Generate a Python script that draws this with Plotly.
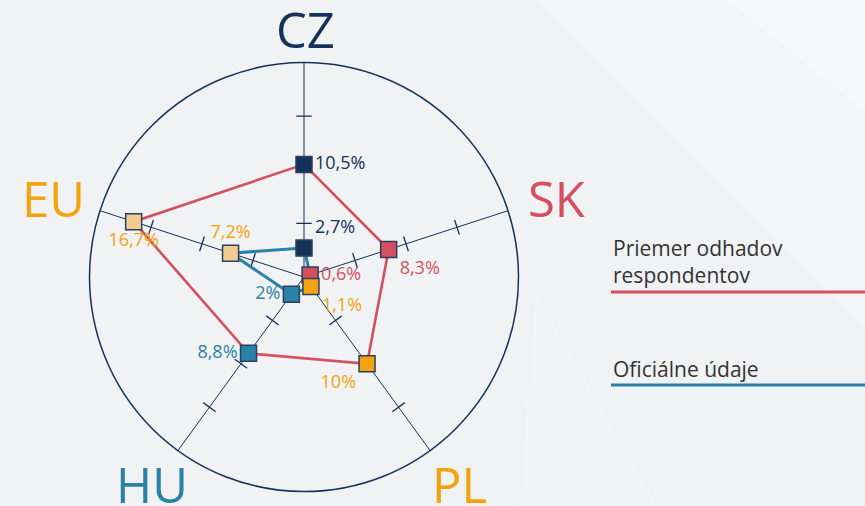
import plotly.graph_objects as go

countries = ["CZ", "SK", "PL", "HU", "EU"]
estimates = [10.5, 8.3, 10.0, 8.8, 16.7]
official = [2.7, 0.6, 1.1, 2.0, 7.2]
estimate_labels = ["10,5%", "8,3%", "10%", "8,8%", "16,7%"]
official_labels = ["2,7%", "0,6%", "1,1%", "2%", "7,2%"]
tick_values = [5, 10, 15]
series_names = ["Priemer odhadov<br>respondentov", "Oficiálne údaje"]

NAVY = "#15325a"
RED = "#d4505f"
ORANGE = "#f2a30f"
TEAL = "#2a82a8"
PEACH = "#f5cb94"
marker_colors = [NAVY, RED, ORANGE, TEAL, PEACH]
text_colors = [NAVY, RED, ORANGE, TEAL, ORANGE]
label_colors = [NAVY, RED, ORANGE, TEAL, ORANGE]
angles = [0, 72, 144, 216, 288]

fig = go.Figure()

# tick marks on spokes
tt, tr, ta = [], [], []
for c, a in zip(countries, angles):
    for v in tick_values:
        tt.append(c); tr.append(v); ta.append(a)
fig.add_trace(go.Scatterpolar(
    r=tr, theta=tt, mode="markers", hoverinfo="skip", showlegend=False,
    marker=dict(symbol="line-ew", size=11, angle=ta,
                line=dict(color=NAVY, width=1.3))))

# series lines
fig.add_trace(go.Scatterpolar(
    r=estimates + estimates[:1], theta=countries + countries[:1], mode="lines",
    line=dict(color=RED, width=2.6), showlegend=False, hoverinfo="skip"))
fig.add_trace(go.Scatterpolar(
    r=official + official[:1], theta=countries + countries[:1], mode="lines",
    line=dict(color=TEAL, width=3), showlegend=False, hoverinfo="skip"))

# markers with value labels
est_pos = ["middle right", "bottom right", "bottom left", "middle left", "bottom center"]
off_pos = ["top right", "middle right", "bottom right", "middle left", "top center"]
for vals, labels, pos in ((estimates, estimate_labels, est_pos),
                          (official, official_labels, off_pos)):
    fig.add_trace(go.Scatterpolar(
        r=vals, theta=countries, mode="markers+text", showlegend=False,
        text=labels, textposition=pos,
        textfont=dict(family="Open Sans", size=18, color=text_colors),
        marker=dict(symbol="square", size=16, color=marker_colors,
                    line=dict(color="#2d3f5e", width=1.5))))

W, H = 865, 506
cx, cy, R = 304, 277, 214.5
fig.update_layout(
    width=W, height=H,
    margin=dict(l=0, r=0, t=0, b=0),
    paper_bgcolor="#f1f2f4",
    polar=dict(
        domain=dict(x=[(cx - R) / W, (cx + R) / W], y=[(H - cy - R) / H, (H - cy + R) / H]),
        bgcolor="rgba(0,0,0,0)",
        radialaxis=dict(range=[0, 20], visible=False, showgrid=False, showline=False,
                        showticklabels=False, ticks=""),
        angularaxis=dict(rotation=90, direction="clockwise", showline=True,
                         linecolor=NAVY, linewidth=1.5, showgrid=True,
                         gridcolor=NAVY, gridwidth=1.2, showticklabels=False, ticks=""),
    ),
    showlegend=False,
)

# decorative light background facets
fig.add_shape(type="path", xref="paper", yref="paper", layer="below",
              path="M 0.62 1 L 1 1 L 1 0.35 Z", fillcolor="rgba(255,255,255,0.25)", line_width=0)
fig.add_shape(type="path", xref="paper", yref="paper", layer="below",
              path="M 0.84 1 L 1 1 L 1 0.78 Z", fillcolor="rgba(255,255,255,0.3)", line_width=0)
fig.add_shape(type="path", xref="paper", yref="paper", layer="below",
              path="M 0.6 0 L 0.76 0 L 0.62 0.42 Z", fillcolor="rgba(255,255,255,0.2)", line_width=0)

# axis (country) labels
label_pos = [(305, 29), (556, 198), (460, 484), (152, 484), (53, 198)]
for c, col, (px, py) in zip(countries, label_colors, label_pos):
    fig.add_annotation(x=px / W, y=1 - py / H, xref="paper", yref="paper", text=c,
                       showarrow=False, xanchor="center", yanchor="middle",
                       font=dict(family="Open Sans", size=49, color=col))

# legend
fig.add_annotation(x=611 / W, y=1 - 291 / H, xref="paper", yref="paper",
                   text=series_names[0], showarrow=False, xanchor="left", yanchor="bottom",
                   align="left", font=dict(family="Open Sans", size=21, color="#333333"))
fig.add_shape(type="line", xref="paper", yref="paper", x0=611 / W, x1=1,
              y0=1 - 292 / H, y1=1 - 292 / H, line=dict(color=RED, width=3))
fig.add_annotation(x=611 / W, y=1 - 385 / H, xref="paper", yref="paper",
                   text=series_names[1], showarrow=False, xanchor="left", yanchor="bottom",
                   align="left", font=dict(family="Open Sans", size=21, color="#333333"))
fig.add_shape(type="line", xref="paper", yref="paper", x0=611 / W, x1=1,
              y0=1 - 385 / H, y1=1 - 385 / H, line=dict(color=TEAL, width=3))

fig.write_html("out.html", config={"displayModeBar": False},
               post_script="document.body.style.margin='0px';document.body.style.overflow='hidden';")
